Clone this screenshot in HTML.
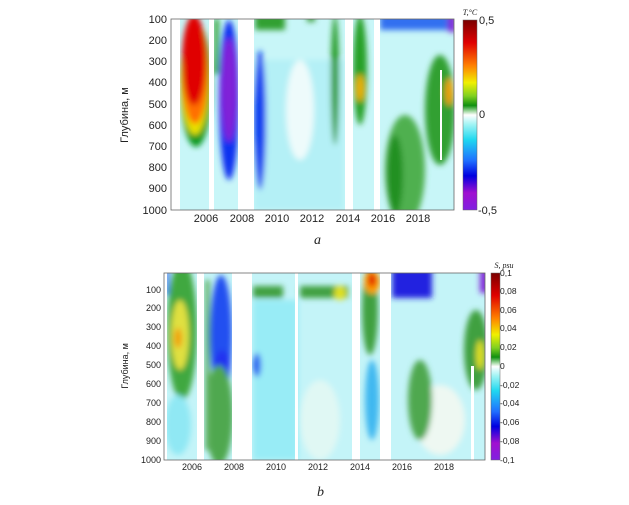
<!DOCTYPE html>
<html><head><meta charset="utf-8"><style>
html,body{margin:0;padding:0;background:#fff;}
svg{display:block;font-family:"Liberation Sans",sans-serif;}
</style></head><body>
<svg width="629" height="505" viewBox="0 0 629 505" xmlns="http://www.w3.org/2000/svg">
<defs>
<linearGradient id="cb" x1="0" y1="0" x2="0" y2="1">
<stop offset="0" stop-color="#7a0000"/><stop offset="0.12" stop-color="#e00000"/>
<stop offset="0.24" stop-color="#ff8000"/><stop offset="0.33" stop-color="#f0f000"/>
<stop offset="0.40" stop-color="#80d020"/><stop offset="0.45" stop-color="#109010"/>
<stop offset="0.48" stop-color="#a0d8a0"/><stop offset="0.50" stop-color="#ffffff"/>
<stop offset="0.55" stop-color="#a0f4f4"/><stop offset="0.63" stop-color="#20d8f0"/>
<stop offset="0.74" stop-color="#2070ff"/><stop offset="0.82" stop-color="#0000e0"/>
<stop offset="0.91" stop-color="#a010d0"/><stop offset="1" stop-color="#8020e0"/>
</linearGradient>
<filter id="bl" x="-20%" y="-20%" width="140%" height="140%"><feGaussianBlur stdDeviation="3"/></filter>
<clipPath id="c1"><rect x="171" y="19" width="283" height="191"/></clipPath>
<clipPath id="c2"><rect x="164" y="273" width="321" height="187"/></clipPath>
</defs>

<!-- TOP PANEL -->
<g clip-path="url(#c1)">
<rect x="171" y="19" width="283" height="191" fill="#c8f6f8"/>
<g filter="url(#bl)">
<rect x="254" y="60" width="90" height="150" fill="#b4f0f6"/>
<ellipse cx="300" cy="110" rx="14" ry="50" fill="#eefbfb"/>
<ellipse cx="196" cy="85" rx="16" ry="62" fill="#109a20"/>
<ellipse cx="195" cy="80" rx="14" ry="55" fill="#e8e000"/>
<ellipse cx="195" cy="72" rx="13" ry="52" fill="#ff7000"/>
<ellipse cx="194" cy="60" rx="12" ry="45" fill="#e00000"/>
<rect x="214" y="19" width="5" height="55" fill="#30a030"/>
<ellipse cx="229" cy="100" rx="10" ry="80" fill="#1030f0"/>
<ellipse cx="229" cy="90" rx="8" ry="52" fill="#8020d8"/>
<ellipse cx="260" cy="120" rx="6" ry="70" fill="#1040f0"/>
<rect x="255" y="14" width="30" height="16" fill="#30a030"/>
<rect x="307" y="14" width="8" height="8" fill="#40a040"/>
<ellipse cx="335" cy="80" rx="4" ry="65" fill="#209a20"/>
<ellipse cx="360" cy="70" rx="7" ry="55" fill="#28a028"/>
<ellipse cx="360" cy="88" rx="4" ry="14" fill="#f0b000"/>
<ellipse cx="405" cy="170" rx="20" ry="55" fill="#50b050"/>
<ellipse cx="395" cy="175" rx="8" ry="40" fill="#209020"/>
<ellipse cx="440" cy="110" rx="15" ry="55" fill="#30a030"/>
<ellipse cx="449" cy="92" rx="4" ry="14" fill="#f0a000"/>
<rect x="380" y="14" width="70" height="16" fill="#3070f0"/>
<rect x="448" y="14" width="8" height="18" fill="#8020d8"/>
</g>
<rect x="171" y="19" width="9" height="191" fill="#fff"/>
<rect x="209" y="19" width="5" height="191" fill="#fff"/>
<rect x="238" y="19" width="16" height="191" fill="#fff"/>
<rect x="345" y="19" width="8" height="191" fill="#fff"/>
<rect x="374" y="19" width="6" height="191" fill="#fff"/>
<rect x="440" y="70" width="2" height="90" fill="#fff"/>
</g>
<rect x="171" y="19" width="283" height="191" fill="none" stroke="#666" stroke-width="0.8"/>
<rect x="463" y="20" width="14" height="190" fill="url(#cb)" stroke="#666" stroke-width="0.5"/>
<g font-size="11" fill="#222" text-anchor="end">
<text x="167" y="23">100</text><text x="167" y="44">200</text><text x="167" y="65">300</text>
<text x="167" y="86">400</text><text x="167" y="108">500</text><text x="167" y="129">600</text>
<text x="167" y="150">700</text><text x="167" y="171">800</text><text x="167" y="192">900</text>
<text x="167" y="214">1000</text>
</g>
<g font-size="11" fill="#222" text-anchor="middle">
<text x="206" y="222">2006</text><text x="242" y="222">2008</text><text x="277" y="222">2010</text>
<text x="312" y="222">2012</text><text x="348" y="222">2014</text><text x="383" y="222">2016</text>
<text x="418" y="222">2018</text>
</g>
<text transform="translate(128,115) rotate(-90)" font-size="11" fill="#222" text-anchor="middle">Глубина, м</text>
<text x="470" y="15" font-size="8" font-family="Liberation Serif,serif" font-style="italic" fill="#222" text-anchor="middle">T,°C</text>
<g font-size="11" fill="#222"><text x="479" y="24">0,5</text><text x="479" y="118">0</text><text x="478" y="214">-0,5</text></g>
<text x="314" y="244" font-size="14" font-family="Liberation Serif,serif" font-style="italic" fill="#222">a</text>

<!-- BOTTOM PANEL -->
<g clip-path="url(#c2)">
<rect x="164" y="273" width="321" height="187" fill="#c4f4f8"/>
<g filter="url(#bl)">
<rect x="253" y="300" width="45" height="160" fill="#98ecf6"/>
<ellipse cx="320" cy="420" rx="20" ry="40" fill="#e0f8f4"/>
<ellipse cx="440" cy="420" rx="25" ry="35" fill="#eef8f2"/>
<ellipse cx="182" cy="330" rx="15" ry="70" fill="#40a840"/>
<ellipse cx="180" cy="335" rx="9" ry="35" fill="#e0e040"/>
<ellipse cx="178" cy="338" rx="4" ry="10" fill="#f0a000"/>
<ellipse cx="178" cy="425" rx="13" ry="30" fill="#90e8f4"/>
<ellipse cx="221" cy="335" rx="11" ry="60" fill="#2050f0"/>
<ellipse cx="222" cy="370" rx="8" ry="20" fill="#2030f0"/>
<ellipse cx="219" cy="415" rx="14" ry="50" fill="#50a850"/>
<rect x="205" y="280" width="5" height="170" fill="#60b060"/>
<rect x="253" y="286" width="30" height="12" fill="#40a040"/>
<rect x="300" y="286" width="48" height="12" fill="#40a040"/>
<ellipse cx="340" cy="293" rx="6" ry="7" fill="#e0e020"/>
<ellipse cx="257" cy="365" rx="4" ry="12" fill="#2060f0"/>
<ellipse cx="370" cy="310" rx="8" ry="45" fill="#40a040"/>
<ellipse cx="372" cy="282" rx="8" ry="12" fill="#ffa000"/>
<ellipse cx="372" cy="280" rx="4" ry="7" fill="#e00000"/>
<ellipse cx="372" cy="400" rx="7" ry="40" fill="#40b8f0"/>
<rect x="392" y="268" width="40" height="30" fill="#2020e0"/>
<ellipse cx="420" cy="400" rx="12" ry="40" fill="#50a850"/>
<ellipse cx="476" cy="350" rx="12" ry="40" fill="#40a040"/>
<ellipse cx="480" cy="355" rx="4" ry="15" fill="#e0e020"/>
<rect x="480" y="268" width="8" height="25" fill="#8020d8"/>
<rect x="166" y="270" width="3" height="25" fill="#2040f0"/>
</g>
<rect x="164" y="273" width="3" height="187" fill="#fff"/>
<rect x="197" y="273" width="7" height="187" fill="#fff"/>
<rect x="232" y="273" width="20" height="187" fill="#fff"/>
<rect x="295" y="273" width="3" height="187" fill="#fff"/>
<rect x="352" y="273" width="8" height="187" fill="#fff"/>
<rect x="380" y="273" width="11" height="187" fill="#fff"/>
<rect x="471" y="366" width="3" height="94" fill="#fff"/>
</g>
<rect x="164" y="273" width="321" height="187" fill="none" stroke="#666" stroke-width="0.8"/>
<rect x="491" y="273" width="9" height="187" fill="url(#cb)" stroke="#666" stroke-width="0.5"/>
<g font-size="9" fill="#222" text-anchor="end">
<text x="161" y="293">100</text><text x="161" y="311">200</text><text x="161" y="330">300</text>
<text x="161" y="349">400</text><text x="161" y="368">500</text><text x="161" y="387">600</text>
<text x="161" y="406">700</text><text x="161" y="425">800</text><text x="161" y="444">900</text>
<text x="161" y="463">1000</text>
</g>
<g font-size="9" fill="#222" text-anchor="middle">
<text x="192" y="470">2006</text><text x="234" y="470">2008</text><text x="276" y="470">2010</text>
<text x="318" y="470">2012</text><text x="360" y="470">2014</text><text x="402" y="470">2016</text>
<text x="444" y="470">2018</text>
</g>
<text transform="translate(128,366) rotate(-90)" font-size="9" fill="#222" text-anchor="middle">Глубина, м</text>
<text x="504" y="268" font-size="8" font-family="Liberation Serif,serif" font-style="italic" fill="#222" text-anchor="middle">S, psu</text>
<g font-size="8.5" fill="#222">
<text x="500" y="276">0,1</text><text x="500" y="294">0,08</text><text x="500" y="313">0,06</text>
<text x="500" y="331">0,04</text><text x="500" y="350">0,02</text><text x="500" y="369">0</text>
<text x="500" y="388">-0,02</text><text x="500" y="406">-0,04</text><text x="500" y="425">-0,06</text>
<text x="500" y="444">-0,08</text><text x="500" y="463">-0,1</text>
</g>
<text x="317" y="496" font-size="14" font-family="Liberation Serif,serif" font-style="italic" fill="#222">b</text>
</svg>
</body></html>
